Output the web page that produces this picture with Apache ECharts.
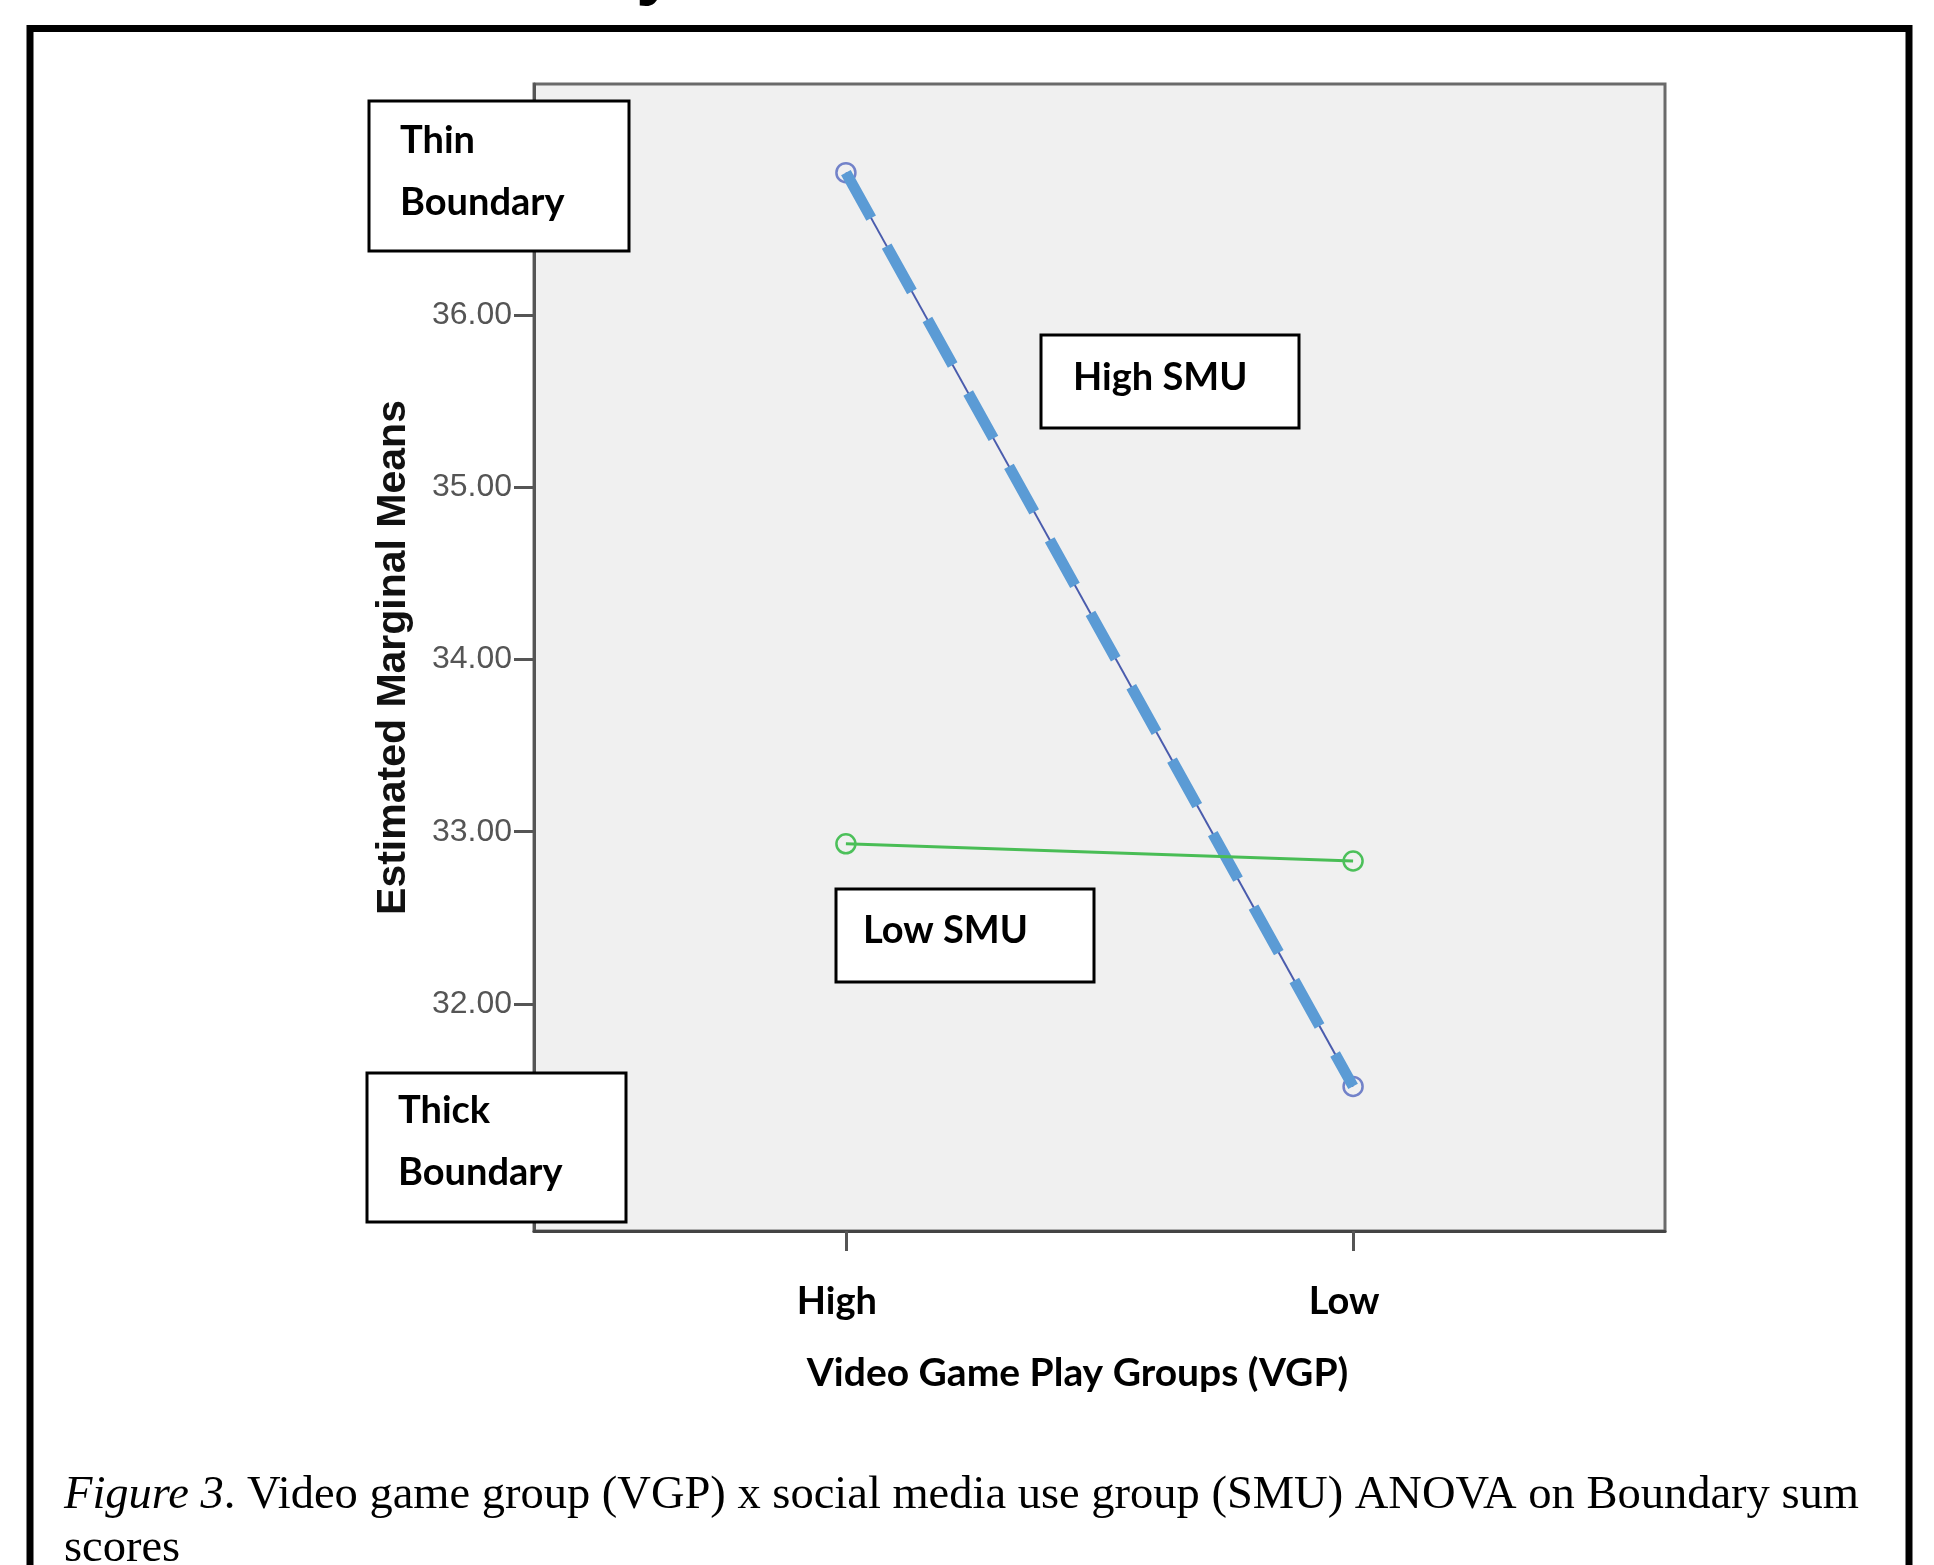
<!DOCTYPE html>
<html>
<head>
<meta charset="utf-8">
<script src="https://cdn.jsdelivr.net/npm/echarts@6/dist/echarts.min.js"></script>
<style>
  html, body { margin: 0; padding: 0; background: #fff; }
  #chart { width: 1934px; height: 1565px; }
</style>
</head>
<body>
<div id="chart"></div>
<script>
// data
var vgpGroups = ['High', 'Low'];
var vgpPos = [1, 2];
var highSmu = [36.83, 31.52];
var lowSmu = [32.93, 32.83];
var yTicks = [32, 33, 34, 35, 36];

function toPoints(vals) {
	return vals.map(function (v, i) { return [vgpPos[i], v]; });
}

var boxFont = 'bold 38px Lato';

var myChart = echarts.init(document.getElementById('chart'));
var option = {
	animation: false,
	backgroundColor: '#fff',
	grid: {
		left: 534,
		top: 84,
		width: 1131,
		height: 1147,
		show: true,
		backgroundColor: '#f0f0f0',
		borderColor: '#6a6a6a',
		borderWidth: 3,
		outerBoundsMode: 'none'
	},
	xAxis: {
		type: 'value',
		min: 0.385,
		max: 2.615,
		name: 'Video Game Play Groups (VGP)',
		nameLocation: 'middle',
		nameGap: 123,
		nameTextStyle: {
			fontFamily: 'Lato',
			fontWeight: 'bold',
			fontSize: 39,
			color: '#000',
			padding: [0, 44, 0, 0]
		},
		axisLine: { show: true, onZero: false, lineStyle: { color: '#444', width: 3 } },
		axisTick: { show: true, customValues: vgpPos, length: 20, lineStyle: { color: '#555', width: 3 } },
		axisLabel: {
			customValues: vgpPos,
			formatter: function (v) { return vgpGroups[Math.round(v) - 1]; },
			margin: 52,
			fontFamily: 'Lato',
			fontWeight: 'bold',
			fontSize: 38,
			color: '#000',
			padding: [0, 18, 0, 0]
		},
		splitLine: { show: false }
	},
	yAxis: {
		type: 'value',
		min: 30.68,
		max: 37.345,
		name: 'Estimated Marginal Means',
		nameLocation: 'middle',
		nameGap: 120,
		nameTextStyle: {
			fontFamily: 'Liberation Sans',
			fontWeight: 'bold',
			fontSize: 41,
			color: '#111'
		},
		axisLine: { show: true, onZero: false, lineStyle: { color: '#555', width: 3 } },
		axisTick: { show: true, customValues: yTicks, length: 20, lineStyle: { color: '#555', width: 3 } },
		axisLabel: {
			customValues: yTicks,
			formatter: function (v) { return v.toFixed(2); },
			margin: 22,
			fontFamily: 'Liberation Sans',
			fontSize: 32,
			color: '#555'
		},
		splitLine: { show: false }
	},
	series: [{
		name: 'High SMU',
		type: 'line',
		data: toPoints(highSmu),
		symbol: 'circle',
		symbolSize: 19,
		z: 2,
		lineStyle: { color: '#4a5cad', width: 2 },
		itemStyle: { color: 'transparent', borderColor: '#7282c9', borderWidth: 2.5 }
	}, {
		// thick dashed overlay on the High SMU line
		name: 'High SMU dash',
		type: 'line',
		data: toPoints(highSmu),
		symbol: 'none',
		silent: true,
		z: 3,
		lineStyle: { color: '#5b9bd5', width: 11, type: [52, 32], cap: 'butt' }
	}, {
		name: 'Low SMU',
		type: 'line',
		data: toPoints(lowSmu),
		symbol: 'circle',
		symbolSize: 19,
		z: 4,
		lineStyle: { color: '#49bd55', width: 3 },
		itemStyle: { color: 'transparent', borderColor: '#4cc05a', borderWidth: 2.5 }
	}],
	graphic: [
		// outer frame
		{ type: 'rect', z: 100, shape: { x: 30, y: 28.5, width: 1879, height: 1600 },
		  style: { fill: 'none', stroke: '#000', lineWidth: 7 } },
		// cut-off heading above the frame
		{ type: 'text', z: 100, x: 636, y: -65, style: { text: 'y', font: 'bold 72px Liberation Sans', fill: '#000' } },
		// annotation boxes
		{ type: 'rect', z: 50, shape: { x: 369, y: 101, width: 260, height: 150 },
		  style: { fill: '#fff', stroke: '#000', lineWidth: 3 } },
		{ type: 'text', z: 51, x: 400, y: 110,
		  style: { text: 'Thin\nBoundary', font: boxFont, lineHeight: 62, fill: '#000' } },
		{ type: 'rect', z: 50, shape: { x: 367, y: 1073, width: 259, height: 149 },
		  style: { fill: '#fff', stroke: '#000', lineWidth: 3 } },
		{ type: 'text', z: 51, x: 398, y: 1080,
		  style: { text: 'Thick\nBoundary', font: boxFont, lineHeight: 62, fill: '#000' } },
		{ type: 'rect', z: 50, shape: { x: 1041, y: 335, width: 258, height: 93 },
		  style: { fill: '#fff', stroke: '#000', lineWidth: 3 } },
		{ type: 'text', z: 51, x: 1073, y: 359,
		  style: { text: 'High SMU', font: boxFont, fill: '#000' } },
		{ type: 'rect', z: 50, shape: { x: 836, y: 889, width: 258, height: 93 },
		  style: { fill: '#fff', stroke: '#000', lineWidth: 3 } },
		{ type: 'text', z: 51, x: 863, y: 912,
		  style: { text: 'Low SMU', font: boxFont, fill: '#000' } },
		// caption
		{ type: 'text', z: 51, x: 64, y: 1472,
		  style: {
			text: '{it|Figure 3}. Video game group (VGP) x social media use group (SMU) ANOVA on Boundary sum',
			font: '46.5px Liberation Serif', fill: '#000',
			rich: { it: { fontStyle: 'italic', fontFamily: 'Liberation Serif', fontSize: 46.5 } }
		  } },
		{ type: 'text', z: 51, x: 64, y: 1525,
		  style: { text: 'scores', font: '46.5px Liberation Serif', fill: '#000' } }
	]
};
myChart.setOption(option);
</script>
</body>
</html>
